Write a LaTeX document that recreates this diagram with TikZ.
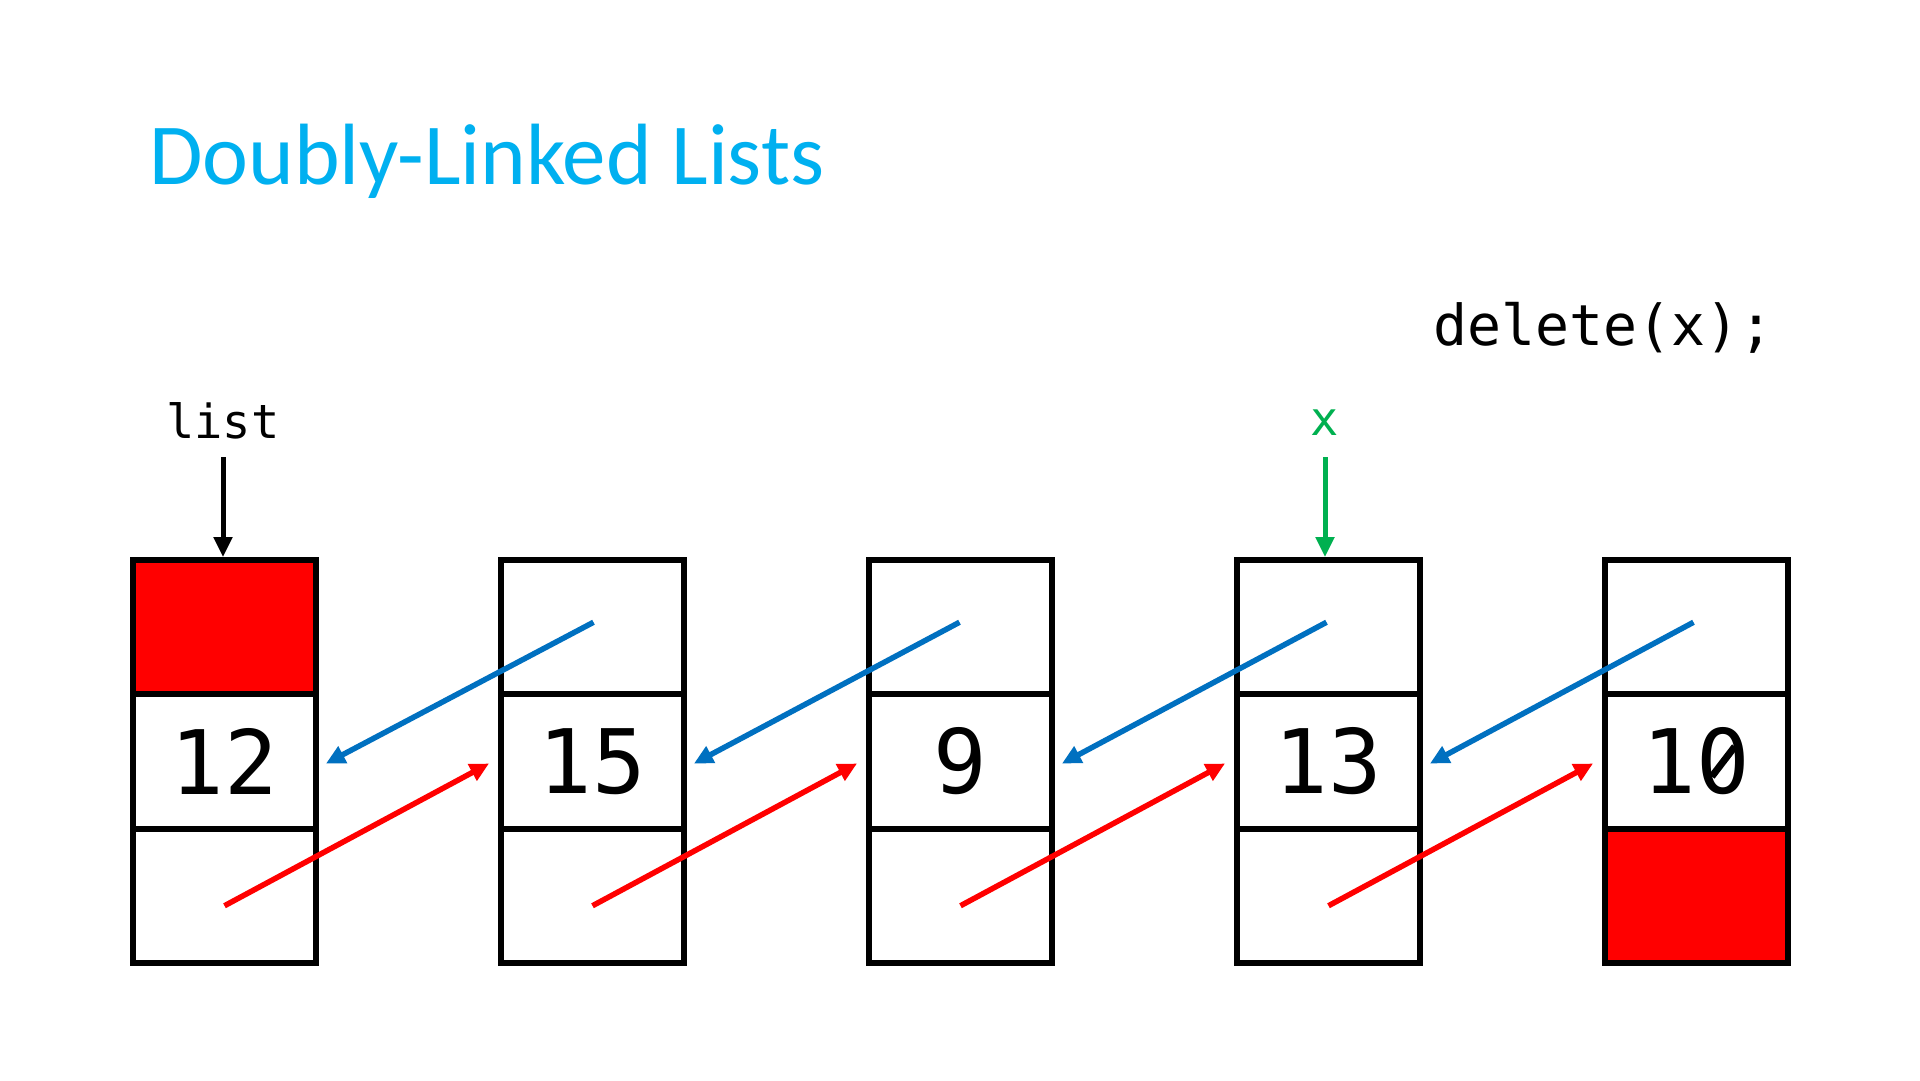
\documentclass[tikz,border=0pt]{standalone}
\usepackage{fontspec}
\setmainfont{Carlito}
\newfontfamily\codefont{DejaVu Sans Mono}
\usetikzlibrary{arrows.meta}
\definecolor{titleblue}{RGB}{0,176,240}
\definecolor{ptrblue}{RGB}{0,112,192}
\definecolor{ptrred}{RGB}{255,0,0}
\definecolor{ptrgreen}{RGB}{0,176,80}
\begin{document}
\begin{tikzpicture}[x=1pt,y=-1pt,
  cell/.style={draw=black,line width=6pt,minimum width=183pt,minimum height=134.33pt,
    inner sep=0pt,font=\codefont\fontsize{89}{89}\selectfont},
  redcell/.style={cell,fill=ptrred},
  bluelink/.style={draw=ptrblue,line width=5.5pt,-{Triangle[length=19pt,width=18pt]}},
  redlink/.style={draw=ptrred,line width=5.5pt,-{Triangle[length=19pt,width=18pt]}},
  blackptr/.style={draw=black,line width=5pt,-{Triangle[length=20pt,width=18pt]}},
  greenptr/.style={draw=ptrgreen,line width=5pt,-{Triangle[length=20pt,width=18pt]}},
  codelabel/.style={font=\codefont\fontsize{47}{47}\selectfont,anchor=base,inner sep=0pt}]
\fill[white] (0,0) rectangle (1920,1080);
\useasboundingbox (0,0) rectangle (1920,1080);

% title and call
\node[font=\fontsize{87}{87}\selectfont,text=titleblue,anchor=base west,inner sep=0pt]
  (title) at (149,184) {Doubly-Linked Lists};
\node[font=\codefont\fontsize{56.5}{56.5}\selectfont,anchor=base west,inner sep=0pt]
  (call) at (1433,345) {delete(x);};

% node 1
\node[redcell] (n1t) at (224.5,627.25) {};
\node[cell] (n1m) at (224.5,761.5) {12};
\node[cell] (n1b) at (224.5,895.75) {};
% node 2
\node[cell] (n2t) at (592.5,627.25) {};
\node[cell] (n2m) at (592.5,761.5) {15};
\node[cell] (n2b) at (592.5,895.75) {};
% node 3
\node[cell] (n3t) at (960.5,627.25) {};
\node[cell] (n3m) at (960.5,761.5) {9};
\node[cell] (n3b) at (960.5,895.75) {};
% node 4
\node[cell] (n4t) at (1328.5,627.25) {};
\node[cell] (n4m) at (1328.5,761.5) {13};
\node[cell] (n4b) at (1328.5,895.75) {};
% node 5
\node[cell] (n5t) at (1696.5,627.25) {};
\node[cell] (n5m) at (1696.5,761.5) {10};
\node[redcell] (n5b) at (1696.5,895.75) {};

% slashed zero in "10": hide the dot, draw the slash
\coordinate (zeroc) at ([xshift=26.8pt]n5m.center);
\fill[white] (zeroc) ellipse [x radius=9pt, y radius=15pt];
\draw[line width=7pt] ([xshift=-11.5pt,yshift=-15pt]zeroc) -- ([xshift=11.5pt,yshift=15pt]zeroc);

% pointer labels
\node[codelabel] (listlbl) at (223,438) {list};
\node[codelabel,text=ptrgreen] (xlbl) at (1324.5,435) {x};
\coordinate (listtail) at ([xshift=-1.5pt,yshift=100pt]n1t.north);
\coordinate (listhead) at ([xshift=-1.5pt]n1t.north);
\coordinate (xtail) at ([xshift=-3.5pt,yshift=100pt]n4t.north);
\coordinate (xhead) at ([xshift=-3.5pt]n4t.north);
\draw[blackptr] (listtail) -- (listhead);
\draw[greenptr] (xtail) -- (xhead);

% prev links (blue)
\draw[bluelink] ([xshift=1pt,yshift=5pt]n2t.center) -- ([xshift=7pt,yshift=-2pt]n1m.east);
\draw[bluelink] ([xshift=-1pt,yshift=5pt]n3t.center) -- ([xshift=7pt,yshift=-2pt]n2m.east);
\draw[bluelink] ([xshift=-2pt,yshift=5pt]n4t.center) -- ([xshift=7pt,yshift=-2pt]n3m.east);
\draw[bluelink] ([xshift=-3pt,yshift=5pt]n5t.center) -- ([xshift=7pt,yshift=-2pt]n4m.east);

% next links (red)
\draw[redlink] ([yshift=-10pt]n1b.center) -- ([xshift=-9pt,yshift=-2pt]n2m.west);
\draw[redlink] ([yshift=-10pt]n2b.center) -- ([xshift=-9pt,yshift=-2pt]n3m.west);
\draw[redlink] ([yshift=-10pt]n3b.center) -- ([xshift=-9pt,yshift=-2pt]n4m.west);
\draw[redlink] ([yshift=-10pt]n4b.center) -- ([xshift=-9pt,yshift=-2pt]n5m.west);
\end{tikzpicture}
\end{document}
